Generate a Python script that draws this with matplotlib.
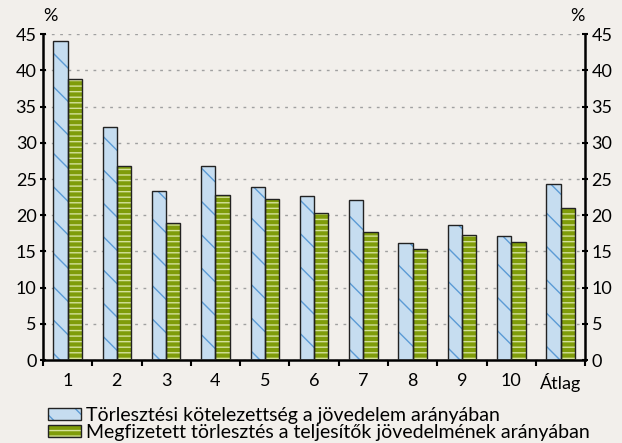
import numpy as np
import matplotlib.pyplot as plt
from matplotlib.ticker import MultipleLocator, FixedLocator
from matplotlib.patches import Patch
from matplotlib.legend_handler import HandlerTuple

plt.rcParams['font.family'] = ['Lato', 'DejaVu Sans']
plt.rcParams['hatch.linewidth'] = 1.0

categories = ['1', '2', '3', '4', '5', '6', '7', '8', '9', '10', 'Átlag']
kotelezettseg = [44.0, 32.2, 23.3, 26.8, 23.9, 22.7, 22.1, 16.2, 18.6, 17.1, 24.3]
megfizetett = [38.8, 26.8, 18.9, 22.8, 22.2, 20.3, 17.7, 15.3, 17.3, 16.3, 21.0]
labels = ['Törlesztési kötelezettség a jövedelem arányában',
          'Megfizetett törlesztés a teljesítők jövedelmének arányában']

bg = '#f2efeb'
fig = plt.figure(figsize=(6.22, 4.43), dpi=100, facecolor=bg)
ax = fig.add_axes([0.069, 0.187, 0.872, 0.736], facecolor=bg)

x = np.arange(len(categories))
w = 0.29
blue_style = dict(facecolor='#c6ddf0', edgecolor='#5b9bd5', hatch='\\', linewidth=0)
green_style = dict(facecolor='#7f9c0a', edgecolor='#d4e19a', hatch='---', linewidth=0)
edge_style = dict(facecolor='none', edgecolor='#222222', linewidth=1.0)

ax.bar(x - w/2, kotelezettseg, w, zorder=2, **blue_style)
ax.bar(x - w/2, kotelezettseg, w, zorder=3, **edge_style)
ax.bar(x + w/2, megfizetett, w, zorder=2, **green_style)
ax.bar(x + w/2, megfizetett, w, zorder=3, **edge_style)

ax.set_xlim(-0.5, len(categories) - 0.5)
ax.set_ylim(0, 45)
ax.yaxis.set_major_locator(MultipleLocator(5))
ax.grid(axis='y', color='#a0a0a0', linestyle=(0, (2, 4)), linewidth=1, zorder=0)

ax.set_xticks(x)
ax.set_xticklabels(categories, fontsize=13)
ax.xaxis.set_minor_locator(FixedLocator(np.arange(-0.5, len(categories), 1.0)))
ax.tick_params(axis='x', which='major', length=0, pad=9)
ax.tick_params(axis='x', which='minor', length=4, width=1.5, direction='out')
ax.tick_params(axis='y', which='major', length=5, width=1.5, direction='inout',
               labelsize=13, left=True, right=True, labelleft=True, labelright=True, pad=2)

for s in ['left', 'right', 'bottom']:
    ax.spines[s].set_linewidth(1.8)
    ax.spines[s].set_color('black')
ax.spines['top'].set_visible(False)

fig.text(0.07, 0.945, '%', fontsize=13, ha='left', va='bottom')
fig.text(0.94, 0.945, '%', fontsize=13, ha='right', va='bottom')

h1 = (Patch(**blue_style), Patch(**edge_style))
h2 = (Patch(**green_style), Patch(**edge_style))
fig.legend(handles=[h1, h2], labels=labels, loc='lower left',
           bbox_to_anchor=(0.065, -0.012), frameon=False, fontsize=14,
           handlelength=1.7, handleheight=0.6, handletextpad=0.25,
           labelspacing=0.0, borderaxespad=0,
           handler_map={tuple: HandlerTuple(ndivide=1, pad=0)})

fig.savefig('out.png', dpi=100, facecolor=bg)
